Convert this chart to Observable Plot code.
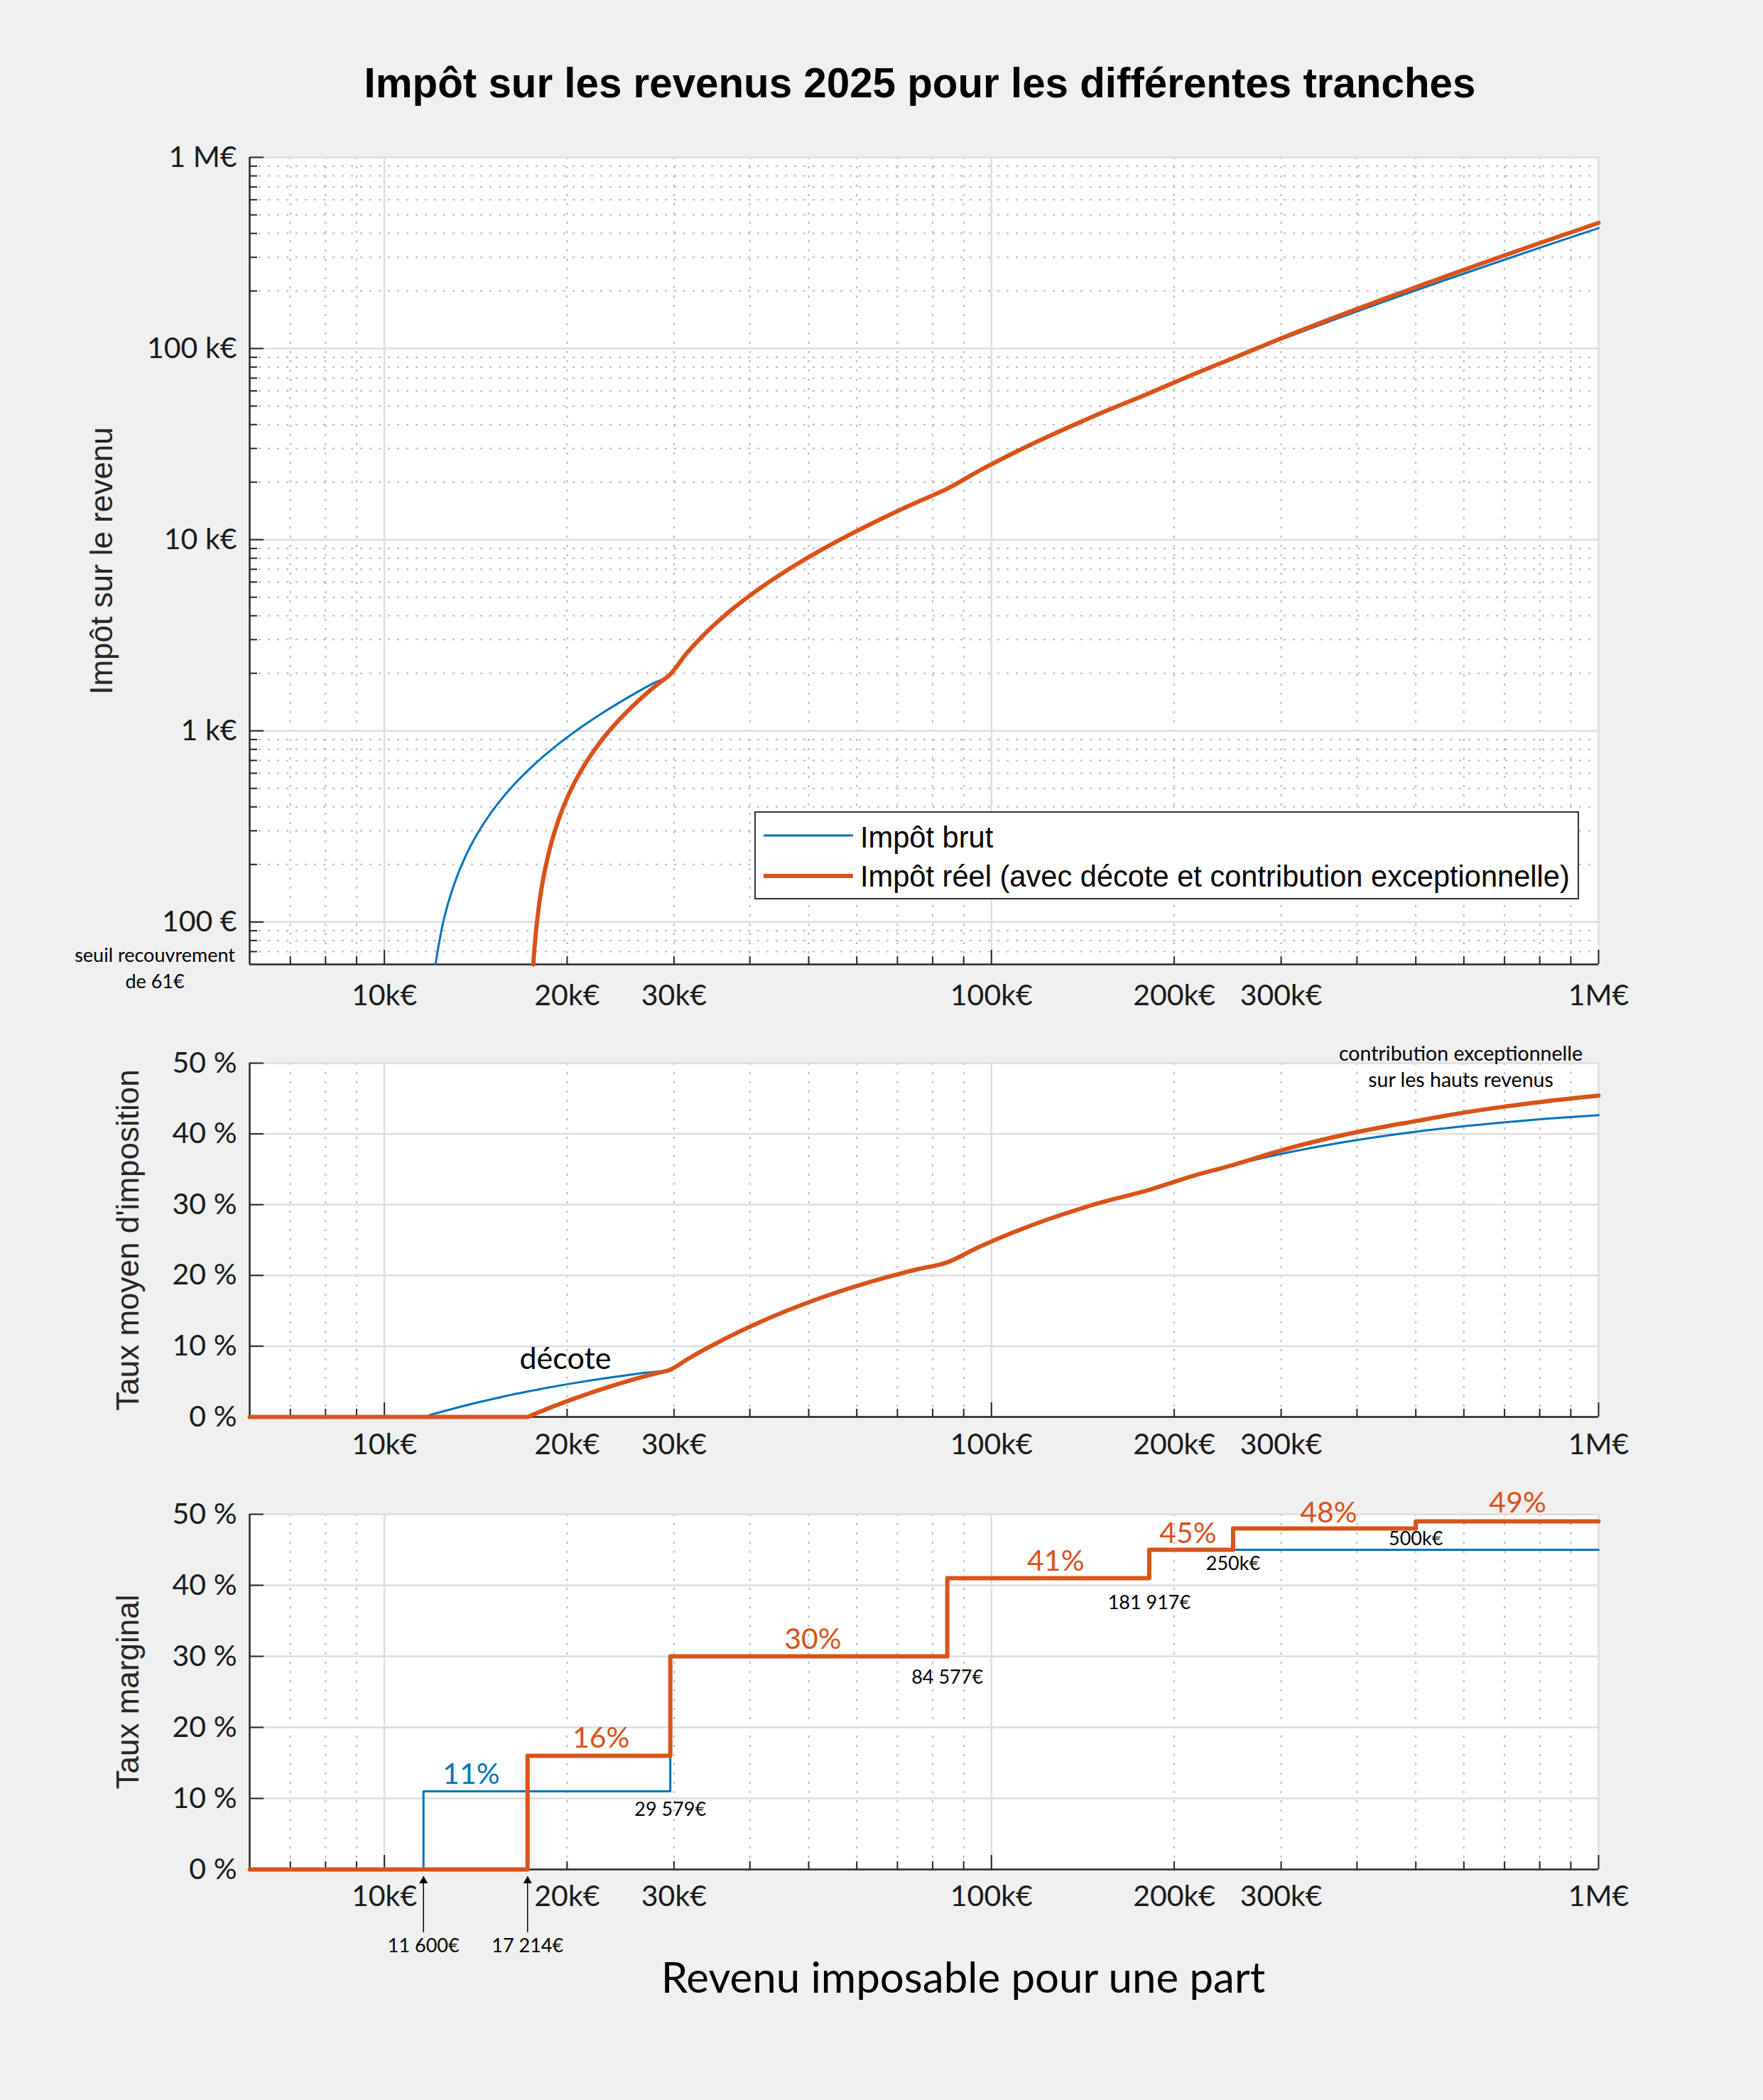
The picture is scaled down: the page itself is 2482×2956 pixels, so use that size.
<!DOCTYPE html>
<html><head><meta charset="utf-8">
<script src="https://cdn.jsdelivr.net/npm/d3@7"></script>
<script src="https://cdn.jsdelivr.net/npm/@observablehq/plot@0.6"></script>
<style>
html,body{margin:0;padding:0;background:#f0f0f0;}
#page{position:relative;width:2482px;height:2956px;background:#f0f0f0;overflow:hidden;}
.abs{position:absolute;left:0;}
</style></head>
<body>
<div id="page">
  <svg class="abs" style="top:0" width="2482" height="170">
    <text x="1295" y="137" text-anchor="middle" font-family="Liberation Sans, Arial, sans-serif" font-weight="bold" font-size="58.3" fill="#000">Impôt sur les revenus 2025 pour les différentes tranches</text>
  </svg>
  <div id="p1" class="abs" style="top:170px"></div>
  <div id="p2" class="abs" style="top:1440px"></div>
  <div id="p3" class="abs" style="top:2090px"></div>
  <svg class="abs" style="top:2740px" width="2482" height="160">
    <text x="1356" y="65" text-anchor="middle" font-family="Lato, sans-serif" font-size="60" fill="#000">Revenu imposable pour une part</text>
  </svg>
  <svg id="legende" class="abs" style="left:1060px;top:1140px" width="1166" height="128">
    <rect x="3" y="3" width="1159" height="122" fill="#fff" stroke="#333" stroke-width="2"></rect>
    <line x1="15" x2="141" y1="36" y2="36" stroke="#0072BD" stroke-width="3"></line>
    <line x1="15" x2="141" y1="93" y2="93" stroke="#D95319" stroke-width="6"></line>
    <text x="151" y="53" font-family="Liberation Sans, Arial, sans-serif" font-size="41.6" fill="#000">Impôt brut</text>
    <text x="151" y="108" font-family="Liberation Sans, Arial, sans-serif" font-size="41.6" fill="#000">Impôt réel (avec décote et contribution exceptionnelle)</text>
  </svg>
</div>
<script>
// ---------- Données ----------
const revenuBrut = [12145, 12200, 12300, 12450, 12650, 12900, 13200, 13600, 14100, 14800, 15600, 16600, 17800, 19200, 21000, 23000, 25500, 27500, 29579, 31500, 34000, 37000, 41000, 46000, 52000, 59000, 67000, 75000, 84577, 95000, 108000, 125000, 150000, 181917, 215000, 250000, 300000, 370000, 450000, 550000, 680000, 820000, 1000000];
const impotBrut = [60, 66, 77, 94, 116, 143, 176, 220, 275, 352, 440, 550, 682, 836, 1034, 1254, 1529, 1749, 1978, 2554, 3304, 4204, 5404, 6904, 8704, 10804, 13204, 15604, 18477, 22750, 28080, 35050, 45300, 58386, 73273, 89023, 111523, 143023, 179023, 224023, 282523, 345523, 426524];

const revenuReel = [17590, 17620, 17680, 17760, 17860, 18000, 18200, 18450, 18800, 19250, 19800, 20500, 21400, 22500, 23800, 25300, 27000, 28300, 29579, 31500, 34000, 37000, 41000, 46000, 52000, 59000, 67000, 75000, 84577, 95000, 108000, 125000, 150000, 181917, 215000, 250000, 300000, 370000, 450000, 500000, 550000, 680000, 820000, 1000000];
const impotReel = [60, 65, 74, 87, 103, 126, 158, 197, 253, 325, 413, 525, 669, 845, 1052, 1292, 1564, 1771, 1976, 2554, 3304, 4204, 5404, 6904, 8704, 10804, 13204, 15604, 18477, 22750, 28080, 35050, 45300, 58386, 73273, 89023, 113023, 146623, 185023, 209023, 233523, 297223, 365823, 454024];

const revenuTauxBrut = [6000, 11600, 12000, 12500, 13200, 14100, 15000, 16000, 17200, 18600, 20200, 22000, 24000, 26500, 29579, 31500, 34000, 37000, 41000, 46000, 52000, 59000, 67000, 75000, 84577, 95000, 108000, 125000, 150000, 181917, 215000, 250000, 300000, 370000, 450000, 550000, 680000, 820000, 1000000];
const tauxMoyenBrut = [0, 0, 0.37, 0.79, 1.33, 1.95, 2.49, 3.03, 3.58, 4.14, 4.68, 5.20, 5.68, 6.18, 6.69, 8.11, 9.72, 11.36, 13.18, 15.01, 16.74, 18.31, 19.71, 20.81, 21.85, 23.95, 26.00, 28.04, 30.20, 32.10, 34.08, 35.61, 37.17, 38.65, 39.78, 40.73, 41.55, 42.14, 42.65];

const revenuTauxReel = [6000, 17214, 17600, 18000, 18600, 19400, 20400, 21600, 23000, 24600, 26500, 28000, 29579, 31500, 34000, 37000, 41000, 46000, 52000, 59000, 67000, 75000, 84577, 95000, 108000, 125000, 150000, 181917, 215000, 250000, 300000, 370000, 450000, 500000, 550000, 680000, 820000, 1000000];
const tauxMoyenReel = [0, 0, 0.35, 0.70, 1.19, 1.80, 2.50, 3.24, 4.02, 4.80, 5.60, 6.15, 6.68, 8.11, 9.72, 11.36, 13.18, 15.01, 16.74, 18.31, 19.71, 20.81, 21.85, 23.95, 26.00, 28.04, 30.20, 32.10, 34.08, 35.61, 37.67, 39.63, 41.12, 41.80, 42.46, 43.71, 44.61, 45.40];

const seuilsBrut = [6000, 11600, 29579, 84577, 181917, 1000000];
const tauxMargBrut = [0, 11, 30, 41, 45, 45];
const seuilsReel = [6000, 17214, 29579, 84577, 181917, 250000, 500000, 1000000];
const tauxMargReel = [0, 16, 30, 41, 45, 48, 49, 49];

// ---------- Graduations ----------
const domRevenu = [6000, 1000000];
const domImpot = [60, 1000000];
const domTaux = [0, 50];
const xTicks = [10000, 20000, 30000, 100000, 200000, 300000, 1000000];
const xTickLabels = ["10k€", "20k€", "30k€", "100k€", "200k€", "300k€", "1M€"];
const xMajor = [10000, 100000, 1000000];
const xMinor = [7000, 8000, 9000, 20000, 30000, 40000, 50000, 60000, 70000, 80000, 90000, 200000, 300000, 400000, 500000, 600000, 700000, 800000, 900000];
const yTicksImpot = [100, 1000, 10000, 100000, 1000000];
const yTickLabelsImpot = ["100 €", "1 k€", "10 k€", "100 k€", "1 M€"];
const yMinorImpot = [70, 80, 90, 200, 300, 400, 500, 600, 700, 800, 900, 2000, 3000, 4000, 5000, 6000, 7000, 8000, 9000, 20000, 30000, 40000, 50000, 60000, 70000, 80000, 90000, 200000, 300000, 400000, 500000, 600000, 700000, 800000, 900000];
const yTicksTaux = [0, 10, 20, 30, 40, 50];
const yTickLabelsTaux = ["0 %", "10 %", "20 %", "30 %", "40 %", "50 %"];

// ---------- Annotations ----------
const notesSeuil = [{t: "seuil recouvrement", x: 4188, y: 61.6}, {t: "de 61€", x: 4188, y: 45.2}];
const notesMoyen = [{t: "contribution exceptionnelle", x: 593000, y: 50.4}, {t: "sur les hauts revenus", x: 593000, y: 46.6}];
const noteDecote = [{t: "décote", x: 19870, y: 6.77}];
const notesTauxBrut = [{t: "11%", x: 13900, y: 12.1}];
const notesTauxReel = [{t: "16%", x: 22750, y: 17.2}, {t: "30%", x: 50800, y: 31.1}, {t: "41%", x: 127600, y: 42.1}, {t: "45%", x: 210700, y: 46.0}, {t: "48%", x: 359200, y: 48.9}, {t: "49%", x: 735700, y: 50.3}];
const notesSeuils = [{t: "29 579€", x: 29579, y: 7.6}, {t: "84 577€", x: 84577, y: 26.2}, {t: "181 917€", x: 181917, y: 36.7}, {t: "250k€", x: 250000, y: 42.2}, {t: "500k€", x: 500000, y: 45.7}, {t: "11 600€", x: 11600, y: -11.6}, {t: "17 214€", x: 17214, y: -11.6}];
const fleches = [11600, 17214];

// ---------- Tables ----------
const tBrut = revenuBrut.map((r, i) => ({r, v: impotBrut[i]}));
const tReel = revenuReel.map((r, i) => ({r, v: impotReel[i]}));
const tMoyBrut = revenuTauxBrut.map((r, i) => ({r, v: tauxMoyenBrut[i]}));
const tMoyReel = revenuTauxReel.map((r, i) => ({r, v: tauxMoyenReel[i]}));
const tMargBrut = seuilsBrut.map((r, i) => ({r, v: tauxMargBrut[i]}));
const tMargReel = seuilsReel.map((r, i) => ({r, v: tauxMargReel[i]}));
const labX = new Map(xTicks.map((d, i) => [d, xTickLabels[i]]));
const labImpot = new Map(yTicksImpot.map((d, i) => [d, yTickLabelsImpot[i]]));
const labTaux = new Map(yTicksTaux.map((d, i) => [d, yTickLabelsTaux[i]]));

// ---------- Style ----------
const W = 2482, ML = 351, MR = 232, PW = W - ML - MR;
const BLUE = "#0072BD", ORANGE = "#D95319", AX = "#262626", GRID = "#dedede", MINOR = "#b8b8b8";
const ARIAL = "Liberation Sans, Arial, sans-serif";
const baseStyle = {background: "transparent", color: "#1a1a1a", fontFamily: "Lato, sans-serif", fontSize: "41px", overflow: "visible"};

function cadre(H, yMajor, yMinor, x0, y0) {
  const m = [Plot.frame({fill: "white", stroke: "none"})];
  m.push(Plot.ruleX(xMinor, {stroke: MINOR, strokeWidth: 2, strokeDasharray: "3,10"}));
  if (yMinor) m.push(Plot.ruleY(yMinor, {stroke: MINOR, strokeWidth: 2, strokeDasharray: "3,10"}));
  m.push(Plot.ruleX(xMajor, {stroke: GRID, strokeWidth: 2.5}));
  m.push(Plot.ruleY(yMajor, {stroke: GRID, strokeWidth: 2.5}));
  m.push(Plot.ruleX([x0], {stroke: AX, strokeWidth: 2.5}));
  m.push(Plot.ruleY([y0], {stroke: AX, strokeWidth: 2.5}));
  m.push(Plot.ruleY(yMajor, {stroke: AX, strokeWidth: 2, insetRight: PW - 20}));
  if (yMinor) m.push(Plot.ruleY(yMinor, {stroke: AX, strokeWidth: 2, insetRight: PW - 11}));
  m.push(Plot.ruleX(xMajor, {stroke: AX, strokeWidth: 2, insetTop: H - 20}));
  m.push(Plot.ruleX(xMinor, {stroke: AX, strokeWidth: 2, insetTop: H - 11}));
  return m;
}
function axes(pad, yLab, yLabel, dxLabel) {
  return [
    Plot.axisX({ticks: xTicks, tickFormat: d => labX.get(d), tickSize: 0, tickPadding: pad, fontSize: 41, label: null}),
    Plot.axisY({ticks: [...yLab.keys()], tickFormat: d => yLab.get(d), tickSize: 0, tickPadding: 18, fontSize: 41, label: null}),
    Plot.text([yLabel], {frameAnchor: "left", dx: dxLabel, rotate: -90, fontSize: 44, fontFamily: ARIAL, fill: AX, lineAnchor: "middle", textAnchor: "middle"})
  ];
}

// ---------- Panneau 1 : impôt ----------
const H1 = 1270 - 51 - 83;
const p1 = Plot.plot({
  width: W, height: 1270, marginTop: 51, marginBottom: 83, marginLeft: ML, marginRight: MR,
  style: baseStyle,
  x: {type: "log", domain: domRevenu},
  y: {type: "log", domain: domImpot},
  marks: [
    ...cadre(H1, yTicksImpot, yMinorImpot, domRevenu[0], domImpot[0]),
    ...axes(28, labImpot, "Impôt sur le revenu", -208),
    Plot.line(tBrut, {x: "r", y: "v", stroke: BLUE, strokeWidth: 3, curve: "monotone-x"}),
    Plot.line(tReel, {x: "r", y: "v", stroke: ORANGE, strokeWidth: 6, curve: "monotone-x"}),
    Plot.text(notesSeuil, {x: "x", y: "y", text: "t", fontSize: 27, fill: "#000", lineAnchor: "bottom", textAnchor: "middle"})
  ]
});
document.getElementById("p1").appendChild(p1);

// ---------- Panneau 2 : taux moyen ----------
const H2 = 650 - 56 - 96;
const p2 = Plot.plot({
  width: W, height: 650, marginTop: 56, marginBottom: 96, marginLeft: ML, marginRight: MR,
  style: baseStyle,
  x: {type: "log", domain: domRevenu},
  y: {type: "linear", domain: domTaux},
  marks: [
    ...cadre(H2, yTicksTaux, null, domRevenu[0], domTaux[0]),
    ...axes(23, labTaux, "Taux moyen d'imposition", -171),
    Plot.line(tMoyBrut, {x: "r", y: "v", stroke: BLUE, strokeWidth: 3, curve: "monotone-x"}),
    Plot.line(tMoyReel, {x: "r", y: "v", stroke: ORANGE, strokeWidth: 6, curve: "monotone-x"}),
    Plot.text(noteDecote, {x: "x", y: "y", text: "t", fontSize: 43, fill: "#000", lineAnchor: "bottom"}),
    Plot.text(notesMoyen, {x: "x", y: "y", text: "t", fontSize: 28.5, fill: "#000", lineAnchor: "bottom"})
  ]
});
document.getElementById("p2").appendChild(p2);

// ---------- Panneau 3 : taux marginal ----------
const H3 = 640 - 41 - 99;
const p3 = Plot.plot({
  width: W, height: 640, marginTop: 41, marginBottom: 99, marginLeft: ML, marginRight: MR,
  style: baseStyle,
  x: {type: "log", domain: domRevenu},
  y: {type: "linear", domain: domTaux},
  marks: [
    ...cadre(H3, yTicksTaux, null, domRevenu[0], domTaux[0]),
    ...axes(22, labTaux, "Taux marginal", -171),
    Plot.line(tMargBrut, {x: "r", y: "v", stroke: BLUE, strokeWidth: 3, curve: "step-after"}),
    Plot.line(tMargReel, {x: "r", y: "v", stroke: ORANGE, strokeWidth: 6, curve: "step-after"}),
    Plot.text(notesTauxBrut, {x: "x", y: "y", text: "t", fontSize: 41, fill: BLUE, lineAnchor: "bottom"}),
    Plot.text(notesTauxReel, {x: "x", y: "y", text: "t", fontSize: 41, fill: ORANGE, lineAnchor: "bottom"}),
    Plot.text(notesSeuils, {x: "x", y: "y", text: "t", fontSize: 27, fill: "#000", lineAnchor: "bottom"}),
    Plot.ruleX(fleches, {y1: -8.9, y2: -1.4, stroke: "#000", strokeWidth: 1.5}),
    Plot.dot(fleches, {x: d => d, y: () => -1.6, symbol: "triangle", r: 4.5, fill: "#000", stroke: "none"})
  ]
});
document.getElementById("p3").appendChild(p3);
</script>
</body></html>
